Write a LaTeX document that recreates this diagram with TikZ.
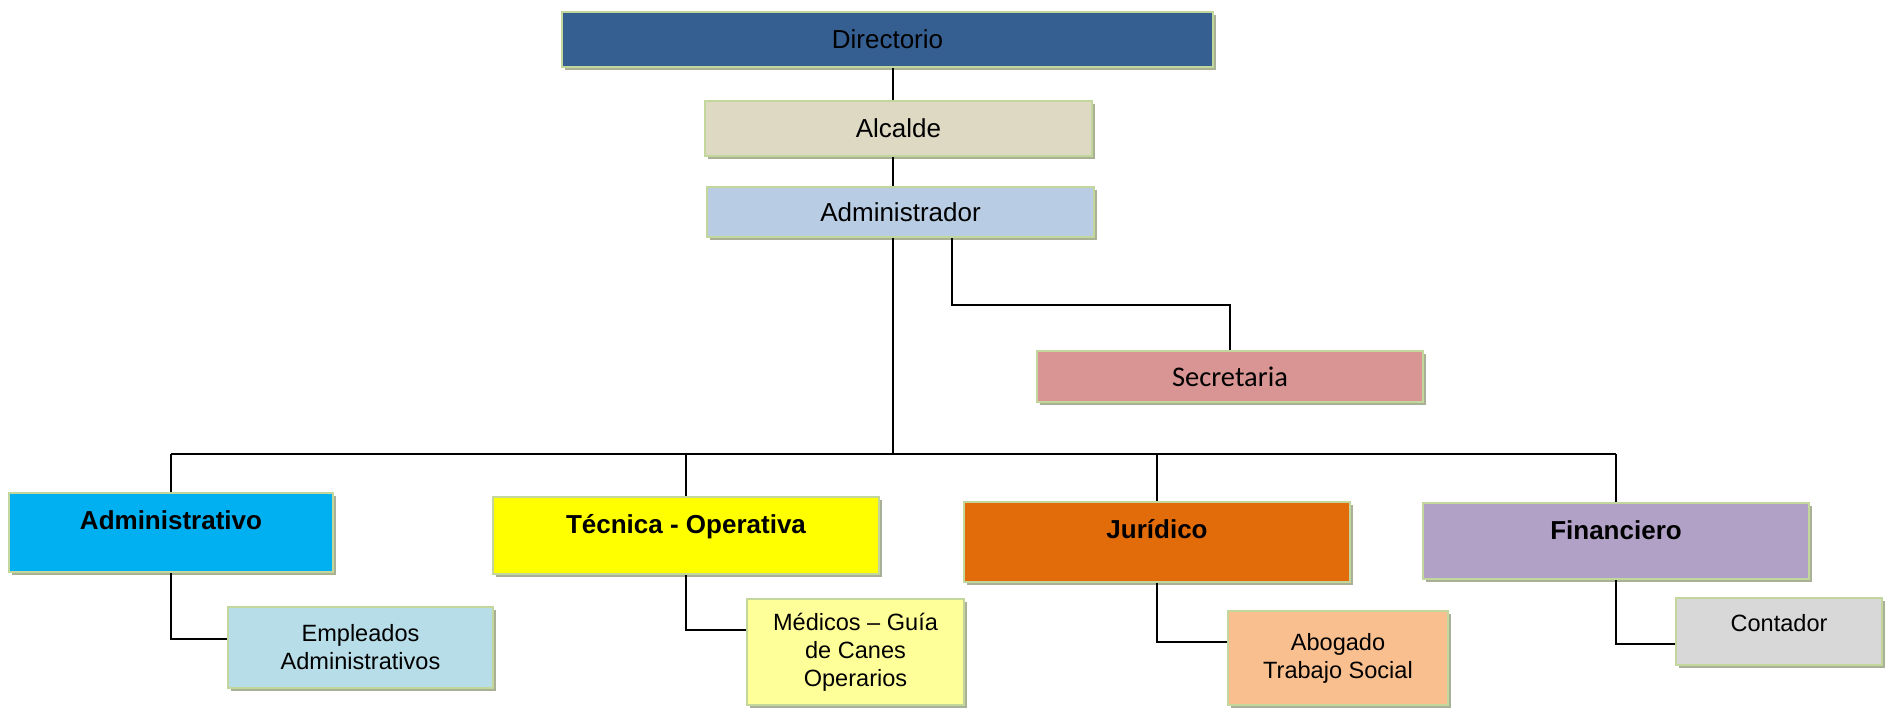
\documentclass[tikz,border=0pt]{standalone}
\usepackage{fontspec}
\setmainfont{Liberation Sans}
\newfontfamily\secfont{Carlito}
\usepackage{xcolor}
\usetikzlibrary{shadows, positioning}

\definecolor{boxline}{RGB}{195,214,155}
\definecolor{boxshadow}{RGB}{168,176,150}
\definecolor{dirblue}{RGB}{54,95,145}
\definecolor{alcbeige}{RGB}{221,217,195}
\definecolor{admblue}{RGB}{184,204,228}
\definecolor{secrose}{RGB}{217,149,148}
\definecolor{advcyan}{RGB}{0,176,240}
\definecolor{tecyellow}{RGB}{255,255,0}
\definecolor{jurorange}{RGB}{227,108,10}
\definecolor{finlilac}{RGB}{178,161,199}
\definecolor{empblue}{RGB}{182,221,232}
\definecolor{medyellow}{RGB}{255,255,153}
\definecolor{abopeach}{RGB}{250,191,143}
\definecolor{congray}{RGB}{216,216,216}

\begin{document}
\begin{tikzpicture}[x=0.02cm, y=-0.02cm,
    box/.style={draw=boxline, line width=0.04cm, rectangle, inner sep=0pt, align=center,
        drop shadow={shadow xshift=0.06cm, shadow yshift=-0.06cm, fill=boxshadow, opacity=1}},
    headbox/.style={box, font=\fontsize{14.8}{17}\selectfont},
    dept/.style={box, font=\bfseries\fontsize{14.8}{17}\selectfont, text height=0.72cm, text depth=#1},
    subbox/.style={box, font=\fontsize{13.4}{16}\selectfont},
    link/.style={draw=black, line width=0.9pt}]
    \useasboundingbox (0,0) rectangle (1885,708);

    % Nodes
    \node[headbox, fill=dirblue, minimum width=13.02cm, minimum height=1.1cm] (dir) at (887.5,39.5) {Directorio};
    \node[headbox, fill=alcbeige, minimum width=7.74cm, minimum height=1.1cm] (alc) at (898.5,128.5) {Alcalde};
    \node[headbox, fill=admblue, minimum width=7.74cm, minimum height=1.0cm] (adm) at (900.5,212) {Administrador};
    \node[box, fill=secrose, font=\secfont\fontsize{16.2}{19}\selectfont, minimum width=7.72cm, minimum height=1.02cm] (sec) at (1230,376.5) {Secretaria};

    \node[dept=0.86cm, fill=advcyan, minimum width=6.48cm] (adv) at (171,532.5) {Administrativo};
    \node[dept=0.82cm, fill=tecyellow, minimum width=7.72cm] (tec) at (686,535.5) {Técnica - Operativa};
    \node[dept=0.88cm, fill=jurorange, minimum width=7.72cm] (jur) at (1157,542) {Jurídico};
    \node[dept=0.80cm, fill=finlilac, minimum width=7.72cm] (fin) at (1616,541) {Financiero};

    \node[subbox, fill=empblue, minimum width=5.3cm, minimum height=1.62cm] (emp) at (360.5,647.5) {Empleados\\Administrativos};
    \node[subbox, fill=medyellow, minimum width=4.34cm, minimum height=2.12cm] (med) at (855.5,652) {Médicos – Guía\\de Canes\\Operarios};
    \node[subbox, fill=abopeach, minimum width=4.4cm, minimum height=1.88cm] (abo) at (1338,658) {Abogado\\Trabajo Social};
    \node[subbox, fill=congray, minimum width=4.12cm, text height=0.67cm, text depth=0.67cm] (con) at (1779,631.5) {Contador};

    % Lines
    \coordinate (trunk) at (893,454);
    \coordinate (secbend) at (952,305);
    \draw[link] (trunk |- alc.north) -- (trunk |- dir.south);
    \draw[link] (trunk |- adm.north) -- (trunk |- alc.south);
    \draw[link] (trunk |- adm.south) -- (trunk);
    \draw[link] (secbend |- adm.south) -- (secbend) -| (sec.north);
    \draw[link] (adv.north |- trunk) -- (fin.north |- trunk);
    \foreach \dep in {adv,tec,jur,fin}
        \draw[link] (\dep.north) -- (\dep.north |- trunk);

    \draw[link] (adv.south) |- ([yshift=0.17cm]emp.west);
    \draw[link] (tec.south) |- ([yshift=0.44cm]med.west);
    \draw[link] (jur.south) |- ([yshift=0.32cm]abo.west);
    \draw[link] (fin.south) |- ([yshift=-0.25cm]con.west);
\end{tikzpicture}
\end{document}
